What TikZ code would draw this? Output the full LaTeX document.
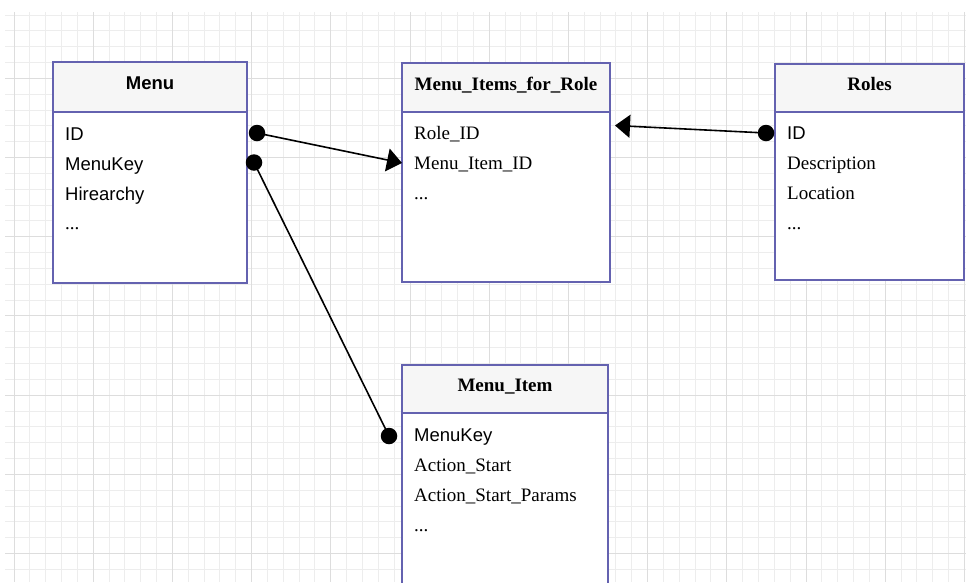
\documentclass[tikz,border=0pt]{standalone}
\usepackage{fontspec}
\setmainfont{Liberation Serif}
\setsansfont{Liberation Sans}
\usetikzlibrary{arrows.meta,fit}

\definecolor{tblline}{RGB}{100,98,176}
\definecolor{hdrfill}{RGB}{246,246,246}
\definecolor{gridminor}{RGB}{237,237,237}
\definecolor{gridmajor}{RGB}{221,221,221}

% a table: name, left, top, right, bottom, header divider
\newcommand{\erbox}[6]{%
  \node[tbl, fit={(#2,#3) (#4,#5)}] (#1) {};
  \fill[hdrfill] ({#2+1.2},{#3+1.2}) rectangle ({#4-1.2},#6);
  \draw[tblline, line width=2.3pt] (#2,#6) -- (#4,#6);
}

\tikzset{
  tbl/.style={draw=tblline, line width=2.3pt, fill=white, rectangle, inner sep=0pt, outer sep=0pt},
  sertitle/.style={font=\fontsize{19}{22}\selectfont\bfseries, anchor=base, inner sep=0pt},
  sanstitle/.style={font=\sffamily\fontsize{18.5}{22}\selectfont\bfseries, anchor=base, inner sep=0pt},
  serfld/.style={font=\fontsize{19}{22}\selectfont, anchor=base west, inner sep=0pt},
  sansfld/.style={font=\sffamily\fontsize{18.5}{22}\selectfont, anchor=base west, inner sep=0pt},
  blob/.style={circle, fill=black, minimum size=16.5pt, inner sep=0pt, outer sep=0pt},
  link/.style={line width=1.6pt, black},
  tip/.style={-{Triangle[length=15pt, width=23pt]}},
}

\begin{document}
\begin{tikzpicture}[x=1pt, y=-1pt]
\useasboundingbox (0,0) rectangle (966,582);
\clip (0,0) rectangle (966,582);

% background grid
\foreach \k in {0,...,60} {
  \pgfmathsetmacro\gx{14+15.84*\k}
  \draw[gridminor, line width=1pt] (\gx,12) -- (\gx,582);
}
\foreach \k in {0,...,35} {
  \pgfmathsetmacro\gy{15+15.84*\k}
  \draw[gridminor, line width=1pt] (5,\gy) -- (966,\gy);
}
\foreach \k in {0,5,...,60} {
  \pgfmathsetmacro\gx{14+15.84*\k}
  \draw[gridmajor, line width=1pt] (\gx,12) -- (\gx,582);
}
\foreach \k in {4,9,...,34} {
  \pgfmathsetmacro\gy{15+15.84*\k}
  \draw[gridmajor, line width=1pt] (5,\gy) -- (966,\gy);
}

% tables
\erbox{menu}{53}{62}{247}{283}{112}
\erbox{mir}{402}{63}{610}{282}{112}
\erbox{roles}{775}{64}{964}{280}{112}
\erbox{item}{402}{365}{608}{600}{413}

% Menu
\node[sanstitle] (menu-t) at (150,89) {Menu};
\node[sansfld] (menu-id) at (65,140) {ID};
\node[sansfld] (menu-key) at (65,170) {MenuKey};
\node[sansfld] (menu-hier) at (65,200) {Hirearchy};
\node[serfld] (menu-more) at (65,229) {...};

% Menu_Items_for_Role
\node[sertitle] (mir-t) at (506,90) {Menu\_Items\_for\_Role};
\node[serfld] (mir-role) at (414,139.5) {Role\_ID};
\node[serfld] (mir-item) at (414,169.5) {Menu\_Item\_ID};
\node[serfld] (mir-more) at (414,199.5) {...};

% Roles
\node[sertitle] (roles-t) at (869.5,90) {Roles};
\node[sansfld] (roles-id) at (787,139.5) {ID};
\node[serfld] (roles-desc) at (787,169.5) {Description};
\node[serfld] (roles-loc) at (787,199.5) {Location};
\node[serfld] (roles-more) at (787,229.5) {...};

% Menu_Item
\node[sertitle] (item-t) at (505,391.5) {Menu\_Item};
\node[sansfld] (item-key) at (414,441) {MenuKey};
\node[serfld] (item-start) at (414,471) {Action\_Start};
\node[serfld] (item-params) at (414,501) {Action\_Start\_Params};
\node[serfld] (item-more) at (414,531) {...};

% connector ends
\node[blob] (menu-id-end) at (257,133) {};
\node[blob] (menu-key-end) at (254,162.5) {};
\node[blob] (roles-id-end) at (766,133) {};
\node[blob] (item-key-end) at (389,436) {};
\coordinate (mir-item-in) at (mir.west |- 0,163);
\coordinate (mir-role-in) at ([xshift=5pt]mir.east |- 0,125.5);

% relations
\draw[link, tip] (menu-id-end.center) -- (mir-item-in);
\draw[link, tip] (roles-id-end.center) -- (mir-role-in);
\draw[link] (menu-key-end.center) -- (item-key-end.center);
\end{tikzpicture}
\end{document}
